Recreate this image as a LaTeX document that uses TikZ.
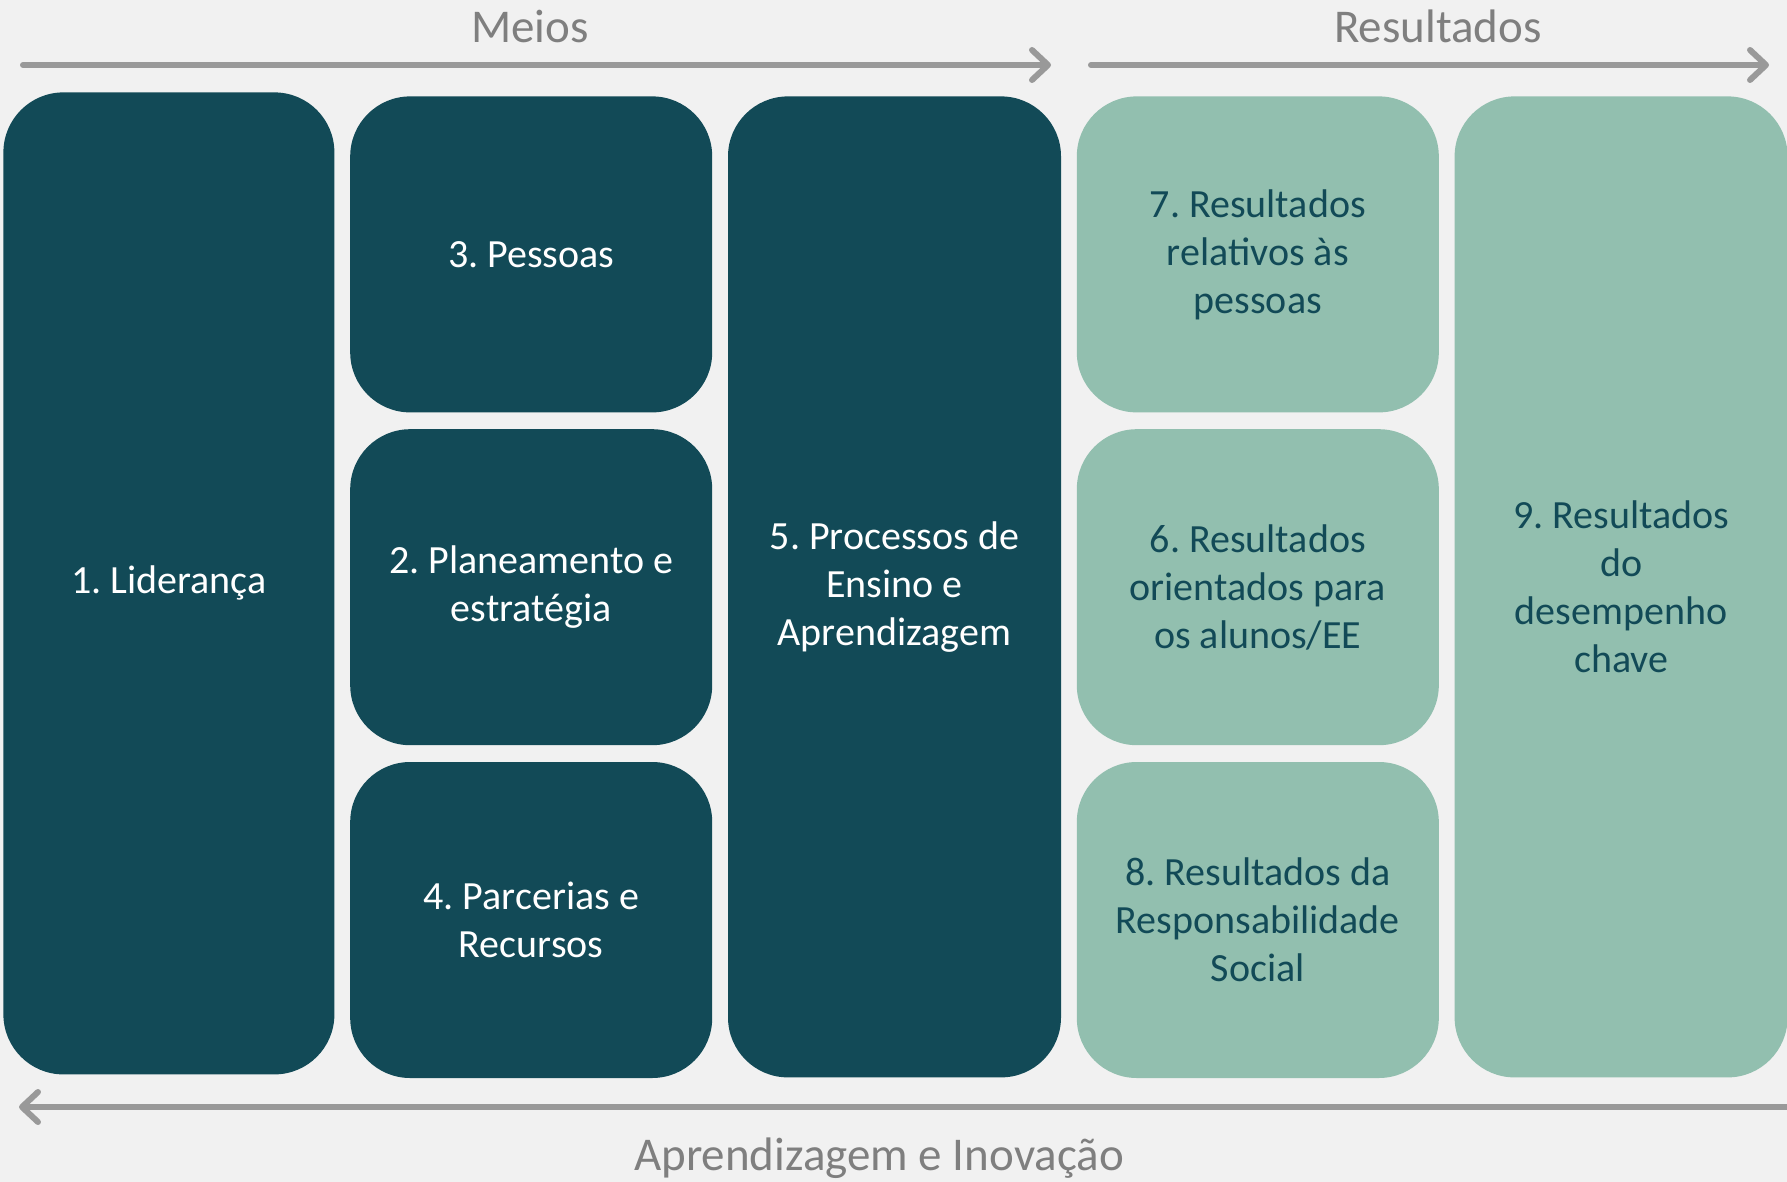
\documentclass[tikz,border=0pt]{standalone}
\usepackage{fontspec}
\setmainfont{Carlito}
\frenchspacing
\usetikzlibrary{positioning,arrows.meta}
\definecolor{petrol}{HTML}{124A57}
\definecolor{sage}{HTML}{92BFAF}
\definecolor{arrowgray}{HTML}{999999}
\definecolor{labelgray}{HTML}{7F7F7F}
\definecolor{paper}{HTML}{F1F1F1}

\begin{document}
\begin{tikzpicture}[x=0.5pt,y=-0.5pt,node distance=8pt,
  box/.style={rounded corners=30pt,minimum width=166.5pt,minimum height=490.5pt,inner sep=0pt,align=center,font=\fontsize{20}{24}\selectfont},
  means/.style={box,fill=petrol,text=white},
  results/.style={box,fill=sage,text=petrol},
  wide/.style={minimum width=181pt},
  small/.style={minimum height=158pt},
  flow/.style={draw=arrowgray,line width=3pt,line cap=round,-{Straight Barb[length=8pt,width=15pt,round]}},
  heading/.style={text=labelgray,anchor=base,font=\fontsize{23.5}{28}\selectfont}]

  % background and page size
  \fill[paper] (0,0) rectangle (1787,1182);
  \useasboundingbox (0,0) rectangle (1787,1182);

  % meios
  \node [means,anchor=north west,minimum width=165.5pt,minimum height=491pt] (lead) at (3,92) {1. Liderança};
  \node [means,wide,small,below right=2pt and 7.5pt of lead.north east] (people) {3. Pessoas};
  \node [means,wide,small,below=of people] (plan) {2. Planeamento e\\estratégia};
  \node [means,wide,small,below=of plan] (partners) {4. Parcerias e\\Recursos};
  \node [means,below right=0pt and 7.5pt of people.north east] (teach) {5. Processos de\\Ensino e\\Aprendizagem};

  % resultados
  \node [results,wide,small,below right=0pt and 7.5pt of teach.north east] (staffres) {7. Resultados\\relativos às\\pessoas};
  \node [results,wide,small,below=of staffres] (pupilres) {6. Resultados\\orientados para\\os alunos/EE};
  \node [results,wide,small,below=of pupilres] (socialres) {8. Resultados da\\Responsabilidade\\Social};
  \node [results,below right=0pt and 7.5pt of staffres.north east] (keyres) {9. Resultados\\do\\desempenho\\chave};

  % arrows
  \coordinate (meios w) at (23,65);
  \coordinate (meios e) at (1051,65);
  \coordinate (res w) at (1091,65);
  \coordinate (res e) at (1769,65);
  \coordinate (inov e) at (1790,1107);
  \coordinate (inov w) at (19,1107);
  \draw [flow] (meios w) -- (meios e);
  \draw [flow] (res w) -- (res e);
  \draw [flow] (inov e) -- (inov w);

  \node [heading] (meios) at (530,43) {Meios};
  \node [heading] (resultados) at (1438,43) {Resultados};
  \node [heading] (inovacao) at (879,1170) {Aprendizagem e Inovação};
\end{tikzpicture}
\end{document}
